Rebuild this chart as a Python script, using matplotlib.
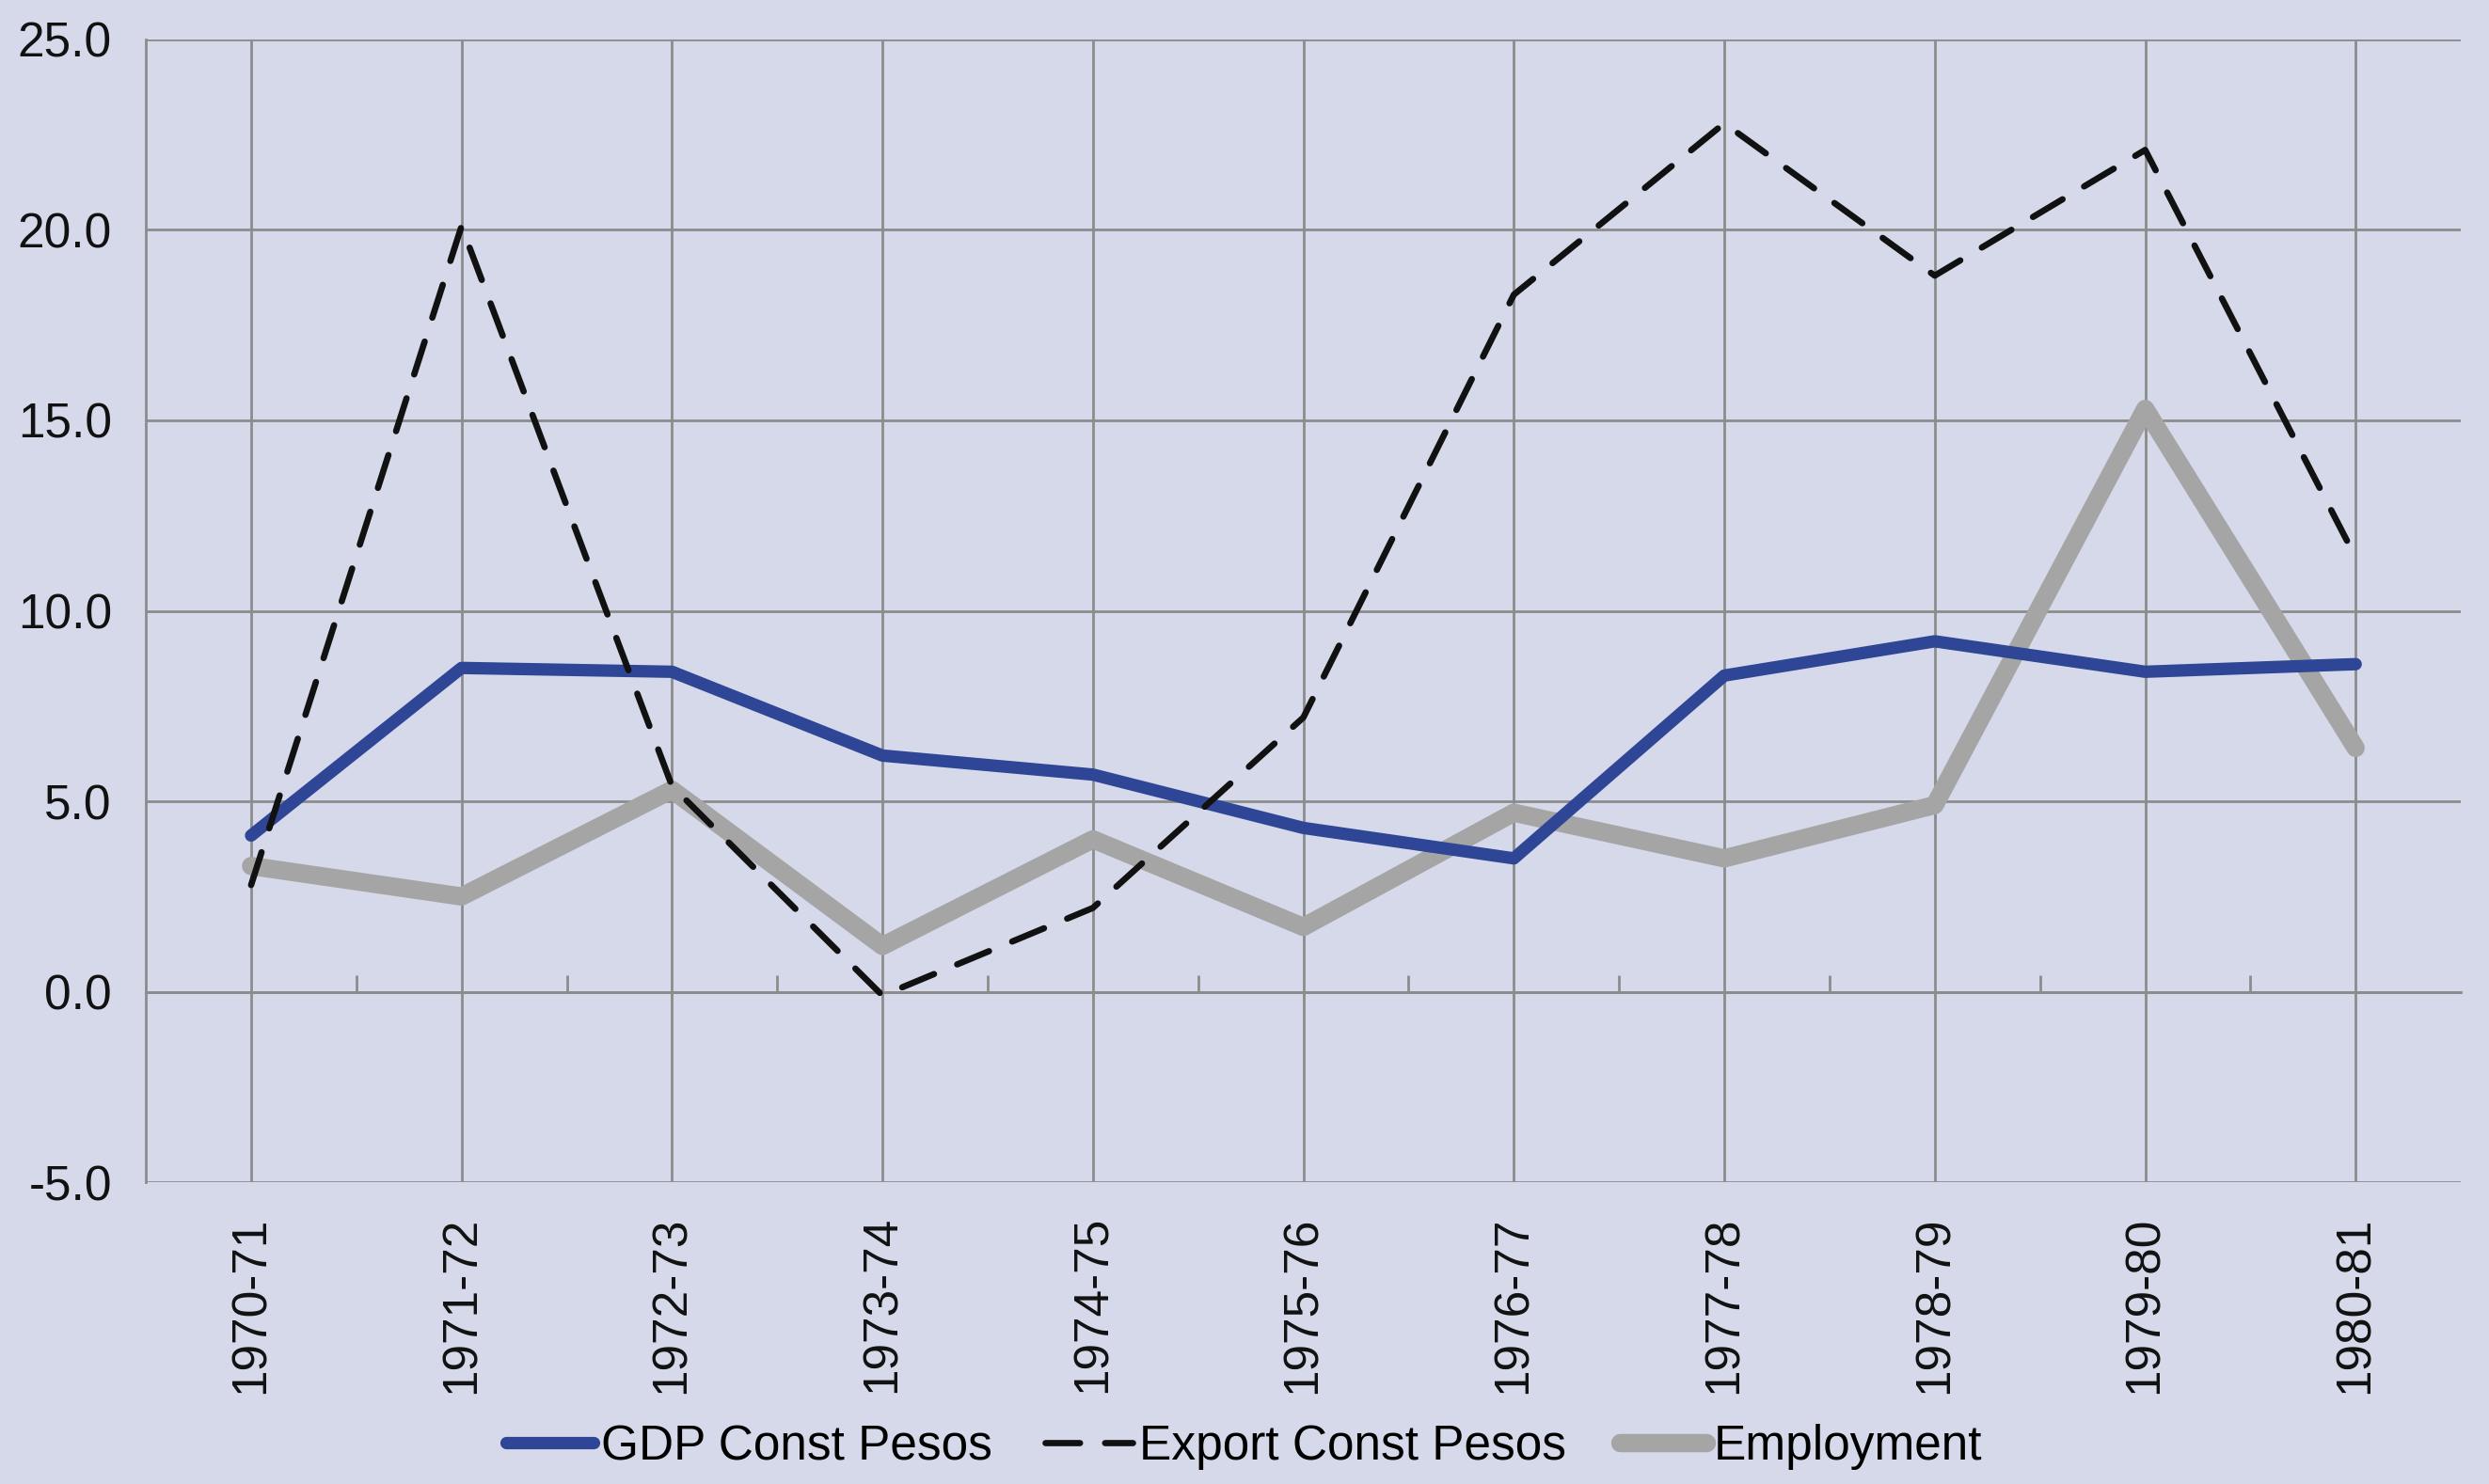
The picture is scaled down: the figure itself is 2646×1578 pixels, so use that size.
import numpy as np
import matplotlib
matplotlib.use('Agg')
import matplotlib.pyplot as plt

# Dados
periodos = ['1970-71', '1971-72', '1972-73', '1973-74', '1974-75', '1975-76',
            '1976-77', '1977-78', '1978-79', '1979-80', '1980-81']
gdp = [4.1, 8.5, 8.4, 6.2, 5.7, 4.3, 3.5, 8.3, 9.2, 8.4, 8.6]
export = [2.8, 20.1, 5.4, -0.1, 2.2, 7.2, 18.3, 22.8, 18.8, 22.1, 11.4]
employment = [3.3, 2.5, 5.3, 1.2, 4.0, 1.7, 4.7, 3.5, 4.9, 15.3, 6.4]
yticks = [-5.0, 0.0, 5.0, 10.0, 15.0, 20.0, 25.0]

fundo = '#D5D9E9'
cinza_grade = '#8C8C8C'
plt.rcParams['font.family'] = ['Liberation Sans', 'DejaVu Sans']
tam = 37

fig = plt.figure(figsize=(26.46, 15.78), dpi=100, facecolor=fundo)
ax = fig.add_axes([0.0586, 0.2034, 0.9301, 0.77])
ax.set_facecolor(fundo)

x = np.arange(len(periodos))
ax.plot(x, gdp, color='#2F4596', lw=9.5, solid_capstyle='round', label='GDP Const Pesos', zorder=4)
ax.plot(x, export, color='#111111', lw=4.8, dashes=(5.5, 4), dash_capstyle='round',
        label='Export Const Pesos', zorder=5)
ax.plot(x, employment, color='#A5A5A5', lw=14, solid_capstyle='round', label='Employment', zorder=3)

ax.set_xlim(-0.5, len(periodos) - 0.5)
ax.set_ylim(-5, 25)
ax.set_yticks(yticks)
ax.set_yticklabels(['%.1f' % v for v in yticks], fontsize=tam)
ax.set_xticks(x)
ax.set_xticklabels(periodos, rotation=90, fontsize=tam)
ax.tick_params(axis='both', length=0, colors='#111111')
ax.tick_params(axis='y', pad=26)
ax.tick_params(axis='x', pad=26)

ax.grid(True, color=cinza_grade, lw=2)
ax.set_axisbelow(True)
for lado in ['top', 'right', 'bottom']:
    ax.spines[lado].set_visible(False)
ax.spines['left'].set_color(cinza_grade)
ax.spines['left'].set_linewidth(2)

# eixo das categorias cruzando em zero, com marcas entre categorias
sec = ax.secondary_xaxis(5 / 30)
sec.set_xticks(np.arange(len(periodos) - 1) + 0.5)
sec.set_xticklabels([])
sec.tick_params(direction='in', length=13, width=2, color=cinza_grade)
sec.spines['bottom'].set_color(cinza_grade)
sec.spines['bottom'].set_linewidth(2)

ax.legend(loc='center', bbox_to_anchor=(0.5, 0.025), bbox_transform=fig.transFigure,
          ncol=3, frameon=False, fontsize=tam, handlelength=1.8, handletextpad=0.15,
          columnspacing=1.1)

fig.savefig('out.png', dpi=100, facecolor=fundo)
